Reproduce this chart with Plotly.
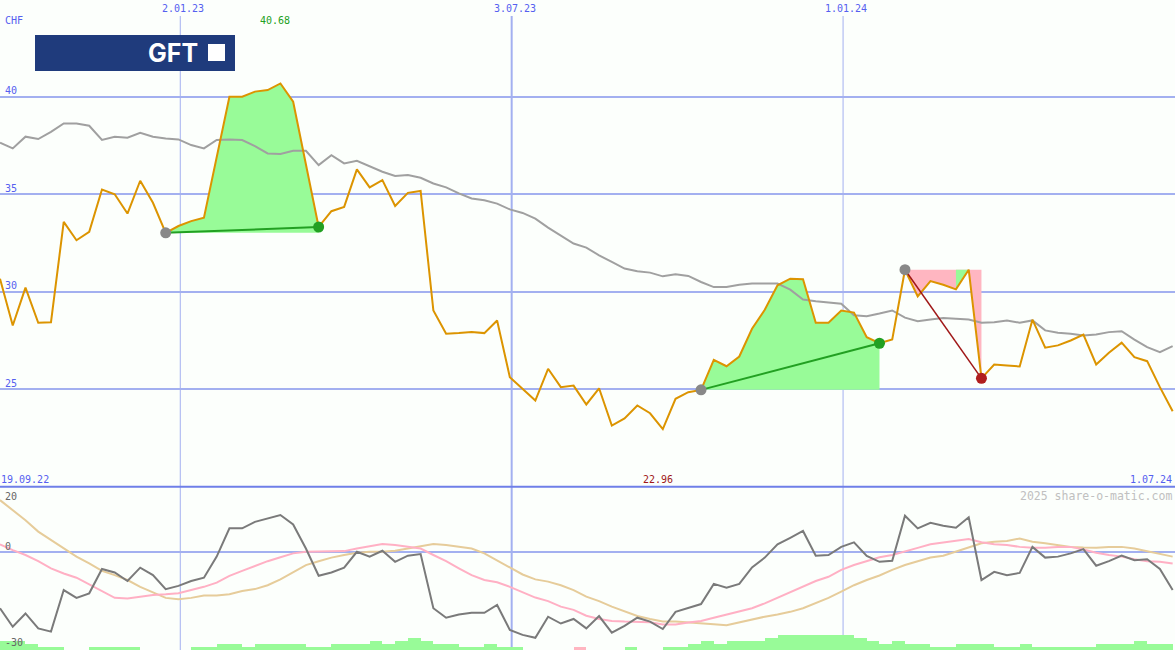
import plotly.graph_objects as go
import pandas as pd

# ---------------- data ----------------
dates = pd.date_range("2022-09-25", periods=93, freq="7D")

price = [30.67, 28.27, 30.21, 28.41, 28.44, 33.58, 32.64, 33.07, 35.24, 35.00,
         34.01, 35.69, 34.56, 33.02, 33.37, 33.62, 33.80, 36.90, 40.00, 40.00,
         40.26, 40.34, 40.68, 39.74, 36.50, 33.32, 34.13, 34.35, 36.27, 35.35,
         35.72, 34.40, 35.07, 35.17, 29.04, 27.85, 27.88, 27.93, 27.88, 28.53,
         25.62, 25.02, 24.42, 26.05, 25.11, 25.19, 24.22, 25.05, 23.14, 23.51,
         24.17, 23.77, 22.96, 24.51, 24.85, 24.97, 26.51, 26.18, 26.68, 28.10,
         29.08, 30.33, 30.67, 30.64, 28.41, 28.41, 29.04, 28.93, 27.67, 27.36,
         27.55, 31.13, 29.76, 30.55, 30.36, 30.12, 31.13, 25.56, 26.27, 26.22,
         26.17, 28.57, 27.13, 27.25, 27.50, 27.80, 26.27, 26.87, 27.39, 26.65,
         26.44, 25.11, 23.87]

avg_line = [37.64, 37.35, 37.95, 37.83, 38.20, 38.63, 38.63, 38.51, 37.78, 37.95,
            37.90, 38.15, 37.95, 37.86, 37.81, 37.52, 37.35, 37.78, 37.81, 37.78,
            37.47, 37.09, 37.06, 37.23, 37.23, 36.49, 37.00, 36.58, 36.71, 36.44,
            36.15, 35.94, 35.98, 35.84, 35.55, 35.35, 35.04, 34.78, 34.69, 34.52,
            34.22, 34.04, 33.75, 33.29, 32.90, 32.47, 32.26, 31.87, 31.53, 31.19,
            31.05, 30.98, 30.79, 30.89, 30.81, 30.50, 30.24, 30.24, 30.36, 30.42,
            30.42, 30.42, 30.11, 29.60, 29.51, 29.44, 29.39, 28.79, 28.74, 28.88,
            29.04, 28.67, 28.49, 28.58, 28.65, 28.62, 28.58, 28.41, 28.44, 28.53,
            28.41, 28.53, 28.02, 27.90, 27.85, 27.76, 27.81, 27.93, 27.98, 27.55,
            27.16, 26.90, 27.21]

osc = [-17.4, -23.1, -19.0, -23.6, -24.6, -11.8, -14.2, -12.8, -5.3, -6.4,
       -9.0, -4.9, -7.2, -11.5, -10.5, -9.0, -8.0, -1.5, 7.2, 7.2,
       9.2, 10.3, 11.3, 8.4, 1.0, -7.4, -6.4, -4.9, 0.0, -1.5,
       0.3, -3.1, -1.2, -0.7, -17.4, -20.3, -19.3, -18.8, -18.8, -16.4,
       -24.1, -25.6, -26.5, -20.0, -22.1, -20.7, -23.6, -19.8, -24.9, -22.8,
       -20.3, -21.5, -23.8, -18.5, -17.2, -16.1, -9.9, -11.1, -9.9, -4.8,
       -1.8, 2.3, 4.3, 6.4, -1.2, -1.0, 1.5, 2.9, -1.3, -3.1,
       -2.8, 11.1, 7.2, 8.9, 8.0, 7.4, 10.6, -8.7, -6.2, -7.2,
       -6.5, 1.5, -1.8, -1.5, -0.5, 0.8, -4.3, -2.9, -1.2, -2.6,
       -2.3, -5.3, -11.8]

osc_fast = [2.3, 0.5, -1.0, -2.9, -5.1, -6.7, -8.0, -10.1, -12.3, -14.2,
            -14.4, -13.8, -13.3, -13.1, -12.8, -11.8, -10.8, -9.5, -7.4, -5.9,
            -4.3, -2.9, -1.7, -0.5, 0.0, 0.0, 0.0, 0.2, 1.0, 1.7,
            2.4, 2.1, 1.5, 1.0, -1.0, -2.9, -5.1, -7.2, -8.7, -9.4,
            -10.8, -12.5, -14.1, -15.2, -16.9, -17.9, -19.7, -20.7, -21.3, -21.5,
            -21.5, -21.7, -22.4, -22.4, -21.8, -21.3, -20.3, -19.3, -18.5, -17.4,
            -15.9, -14.2, -12.3, -10.8, -9.0, -7.7, -5.6, -4.1, -2.9, -1.7,
            -1.0, 0.0, 1.2, 2.3, 2.9, 3.3, 3.9, 2.9, 2.3, 2.1,
            1.5, 1.2, 1.2, 1.5, 1.5, 0.7, -0.3, -1.0, -1.5, -2.3,
            -2.9, -3.1, -3.6]

osc_slow = [15.9, 12.8, 9.7, 6.2, 3.6, 1.0, -1.5, -3.6, -5.9, -7.2,
            -8.7, -10.8, -12.6, -14.2, -14.6, -14.2, -13.5, -13.5, -13.1, -12.1,
            -11.5, -10.3, -8.5, -6.2, -4.1, -2.9, -1.8, -1.0, -0.3, 0.0,
            0.0, 0.3, 1.0, 1.8, 2.4, 2.1, 1.5, 1.0, -0.5, -2.6,
            -4.9, -7.0, -8.5, -9.2, -10.3, -11.8, -13.8, -15.2, -16.9, -18.3,
            -19.8, -20.7, -21.5, -21.5, -21.7, -22.1, -22.3, -22.6, -21.7, -21.0,
            -20.0, -19.3, -18.5, -17.4, -15.9, -14.2, -12.3, -10.3, -8.7, -7.3,
            -5.6, -4.1, -2.9, -1.8, -1.2, 0.0, 1.2, 2.6, 3.1, 3.3,
            4.1, 3.1, 2.6, 2.1, 1.5, 1.3, 1.2, 1.5, 1.5, 1.0,
            0.2, -0.8, -1.5]

# weekly histogram levels (negative = pink)
hist = [3, 3, 2, 1, 1, 0, 0, 1, 1, 1, 1, 0, 0, 0, 0, 1, 1, 2, 2, 1,
        2, 2, 2, 2, 1, 1, 2, 2, 2, 3, 2, 3, 4, 3, 2, 2, 1, 1, 2, 1,
        1, 0, 0, 0, 0, -1, 0, 0, 0, 1, 0, 0, 1, 1, 2, 3, 2, 3, 3, 3,
        4, 5, 5, 5, 5, 5, 5, 4, 3, 2, 3, 2, 2, 1, 1, 2, 2, 2, 1, 1,
        2, 1, 1, 1, 1, 1, 2, 2, 2, 3, 2, 2]

# trades: (entry index, exit index, result)
trades = [(13, 25, "win"), (55, 69, "win"), (71, 77, "loss")]

grid_dates = ["2023-01-02", "2023-07-03", "2024-01-01"]
grid_labels = ["2.01.23", "3.07.23", "1.01.24"]
grid_widths = [1, 2, 1]
price_ticks = [25, 30, 35, 40]

# ---------------- styling ----------------
W, H = 1175, 650
BG = "#fcfffc"
GRID = "#a3b0f0"
BLUE_TXT = "#5560f0"
ORANGE = "#dc9400"
GREEN_FILL = "#98fb98"
PINK_FILL = "#ffb6c1"
GREEN = "#22a022"
RED = "#a01818"
MONO = "DejaVu Sans Mono"

SPLIT = (H - 486.8) / H  # boundary between panels (paper)


def px(x):
    return x / W


def py(y):
    return (H - y) / H


fig = go.Figure()

# trade fill regions
for i0, i1, res in trades:
    base = price[i0]
    xs = list(dates[i0:i1 + 1]) + [dates[i1], dates[i0]]
    ys = price[i0:i1 + 1] + [base, base]
    col = GREEN_FILL if res == "win" else PINK_FILL
    fig.add_trace(go.Scatter(x=xs, y=ys, mode="lines", fill="toself",
                             fillcolor=col, line=dict(width=0, color=col),
                             hoverinfo="skip"))
    if res == "loss":
        # segments inside the losing trade where price rose back to entry
        for j in range(i0 + 1, i1):
            if price[j + 1] >= base - 0.02 and price[j] < base and j + 1 < i1:
                fig.add_trace(go.Scatter(
                    x=[dates[j], dates[j + 1], dates[j]],
                    y=[price[j], price[j + 1], base],
                    mode="lines", fill="toself", fillcolor=GREEN_FILL,
                    line=dict(width=0, color=GREEN_FILL), hoverinfo="skip"))

# moving average and price
fig.add_trace(go.Scatter(x=dates, y=avg_line, mode="lines",
                         line=dict(color="#a0a0a0", width=2), hoverinfo="skip"))
fig.add_trace(go.Scatter(x=dates, y=price, mode="lines",
                         line=dict(color=ORANGE, width=2), hoverinfo="skip"))

# trade connectors and markers
for i0, i1, res in trades:
    col = GREEN if res == "win" else RED
    fig.add_trace(go.Scatter(x=[dates[i0], dates[i1]], y=[price[i0], price[i1]],
                             mode="lines",
                             line=dict(color=col, width=2 if res == "win" else 1.5),
                             hoverinfo="skip"))
    fig.add_trace(go.Scatter(x=[dates[i0]], y=[price[i0]], mode="markers",
                             marker=dict(color="#888888", size=11), hoverinfo="skip"))
    fig.add_trace(go.Scatter(x=[dates[i1]], y=[price[i1]], mode="markers",
                             marker=dict(color=GREEN if res == "win" else "#b01e1e", size=11),
                             hoverinfo="skip"))

# lower panel histogram
bar_x = [d + pd.Timedelta(hours=84) for d in dates[:len(hist)]]
fig.add_trace(go.Bar(x=bar_x, y=[abs(h) * 0.91 for h in hist], base=-30.25,
                     width=7 * 86400000,
                     marker=dict(color=[GREEN_FILL if h >= 0 else PINK_FILL for h in hist],
                                 line=dict(width=0)),
                     yaxis="y2", hoverinfo="skip"))

# lower panel lines
fig.add_trace(go.Scatter(x=dates, y=osc_slow, mode="lines", yaxis="y2",
                         line=dict(color="#e6cc9a", width=2), hoverinfo="skip"))
fig.add_trace(go.Scatter(x=dates, y=osc_fast, mode="lines", yaxis="y2",
                         line=dict(color="#ffb0c4", width=2), hoverinfo="skip"))
fig.add_trace(go.Scatter(x=dates, y=osc, mode="lines", yaxis="y2",
                         line=dict(color="#7a7a7a", width=2), hoverinfo="skip"))

shapes = []
for d, w in zip(grid_dates, grid_widths):
    shapes.append(dict(type="line", xref="x", yref="paper", x0=d, x1=d,
                       y0=0, y1=py(16), line=dict(color=GRID, width=w), layer="below"))
# panel separator
shapes.append(dict(type="line", xref="paper", yref="paper", x0=0, x1=1,
                   y0=SPLIT, y1=SPLIT, line=dict(color="#6f7fe8", width=2)))
# logo
shapes.append(dict(type="rect", xref="paper", yref="paper",
                   x0=px(35), x1=px(235), y0=py(71), y1=py(35),
                   fillcolor="#1f3b7c", line=dict(width=0)))
shapes.append(dict(type="rect", xref="paper", yref="paper",
                   x0=px(208), x1=px(225), y0=py(61), y1=py(44),
                   fillcolor="white", line=dict(width=0)))

ann = []


def txt(text, x, y, color, size=10, xanchor="left", xref="paper", yref="paper",
        xshift=0, yshift=0, family=MONO, weight=None):
    f = dict(family=family, size=size, color=color)
    if weight:
        f["weight"] = weight
    ann.append(dict(text=text, x=x, y=y, xref=xref, yref=yref, xanchor=xanchor,
                    yanchor="middle", showarrow=False, font=f,
                    xshift=xshift, yshift=yshift, borderpad=0))


for d, lab in zip(grid_dates, grid_labels):
    txt(lab, d, py(8), BLUE_TXT, xanchor="center", xref="x", xshift=3)
txt("CHF", px(4), py(21), BLUE_TXT)
for v in price_ticks:
    txt(str(v), px(4), v, BLUE_TXT, yref="y", yshift=6)

imax = price.index(max(price))
imin = price.index(min(price))
txt(f"{price[imax]:.2f}", dates[imax], py(21), GREEN, xanchor="center", xref="x", xshift=-5)
txt(f"{price[imin]:.2f}", dates[imin], py(479), RED, xanchor="center", xref="x", xshift=-5)
txt("19.09.22", px(0), py(479), BLUE_TXT)
txt("1.07.24", px(1173), py(479), BLUE_TXT, xanchor="right")
txt("2025 share-o-matic.com", px(1173), py(496), "#c0c0c0", size=11.5, xanchor="right")

txt("20", px(4), py(496), "#666666")
txt("0", px(4), py(546), "#666666")
txt("-30", px(4), py(642), "#666666")

txt("GFT", px(172.5), py(53), "white", size=25, xanchor="center",
    family="Inter", weight=700)

fig.update_layout(
    width=W, height=H,
    margin=dict(l=0, r=0, t=0, b=0),
    paper_bgcolor=BG, plot_bgcolor=BG,
    showlegend=False, hovermode=False, bargap=0,
    xaxis=dict(type="date", range=["2022-09-25", "2024-07-01 07:00"],
               showgrid=False, showticklabels=False, zeroline=False,
               showline=False, ticks=""),
    yaxis=dict(domain=[SPLIT, 1], range=[20, 44.957], tickvals=price_ticks,
               gridcolor=GRID, gridwidth=2, showticklabels=False,
               zeroline=False, showline=False, ticks=""),
    yaxis2=dict(domain=[0, SPLIT], range=[-30.25, 20], tickvals=[0],
                gridcolor=GRID, gridwidth=2, showticklabels=False,
                zeroline=False, showline=False, ticks="", anchor="x"),
    shapes=shapes,
    annotations=ann,
)

fig.write_html(
    "out.html",
    config={"displayModeBar": False},
    post_script="document.body.style.margin='0';document.body.style.overflow='hidden';",
)
